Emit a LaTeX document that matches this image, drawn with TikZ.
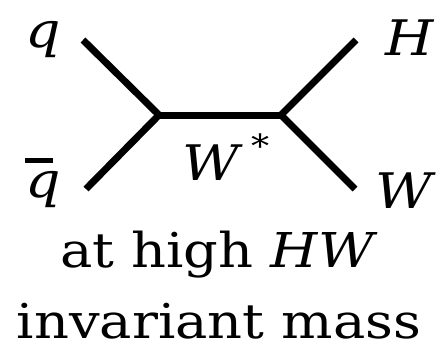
\documentclass[tikz,border=0pt]{standalone}
\usepackage{fontspec}
\setmainfont{DejaVu Serif}[FakeStretch=1.13]
\begin{document}
\begin{tikzpicture}[x=1pt,y=-1pt,
  prop/.style={line width=7pt,line cap=butt,line join=miter},
  lbl/.style={inner sep=0pt,anchor=base,font=\fontsize{49}{52}\selectfont},
  txt/.style={inner sep=0pt,anchor=base,font=\fontsize{48}{52}\selectfont}]
\useasboundingbox (0,0) rectangle (437,351);
\coordinate (a) at (159,115);
\coordinate (b) at (281,115);
\coordinate (qe) at (83,40);
\coordinate (qbe) at (86,189);
\coordinate (he) at (356,40);
\coordinate (we) at (355,189);
\draw[prop] (qe) -- (a) -- (qbe);
\draw[prop] (he) -- (b) -- (we);
\draw[prop] (a) -- (b);
\node[lbl] (q) at (43,47) {\textit{q}};
\node[lbl] (qb) at (43,197) {\textit{q}};
\draw[line width=5pt] (25,160) -- (53,160);
\node[lbl] (H) at (410,55) {\textit{H}};
\node[lbl] (W) at (406,208) {\textit{W}};
\node[lbl,anchor=base west] (Ws) at (182,180) {\textit{W}\,\raisebox{0.45em}{\fontsize{32}{34}\selectfont *}};
\node[txt] (t1) at (219,267) {at high \textit{HW}};
\node[txt] (t2) at (219,338) {invariant mass};
\end{tikzpicture}
\end{document}
